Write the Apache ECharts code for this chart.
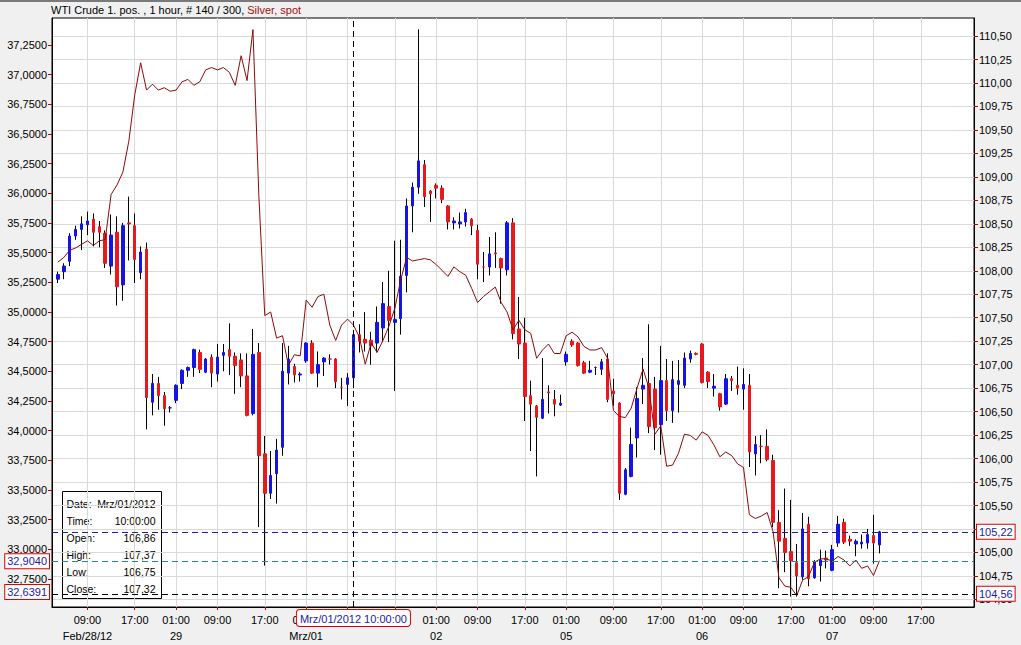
<!DOCTYPE html>
<html><head><meta charset="utf-8">
<script src="https://cdn.jsdelivr.net/npm/echarts@6/dist/echarts.min.js"></script>
<style>html,body{margin:0;padding:0;background:#f0f0f0;}#c{width:1021px;height:645px;}</style>
</head><body><div id="c"></div>
<script>
// ---------- data ----------
const dayLabels = ['Feb/28/12','29','Mrz/01','02','05','06','07','08'];
const dayHourLists = [
  [2,3,4,5,7,8,9,10,11,12,13,14,15,16,17,18,19,20,21,22],
  [0,1,2,3,4,5,7,8,9,10,11,12,13,14,15,16,17,18,19,20,21,22],
  [0,1,2,3,4,5,7,8,9,10,11,12,13,14,15,16,17,18,19,20,21,22],
  [0,1,2,3,4,5,7,8,9,10,11,12,13,14,15,16,17,18,19,20,21,22],
  [0,1,2,3,4,5,6,7,8,9,10,11,12,13,14,15,16,17,18,19,20,21,22],
  [0,1,2,3,4,5,7,8,9,10,11,12,13,14,15,16,17,18,19,20,21,22],
  [0,1,2,3,4,5,7,8,9,10,11,12,13,14,15,16,17,18,19,20,21,22],
  [0,1,2,3]
];
const labelHours = [1, 9, 17];
const labelDayCount = 7;
const hiddenTimeLabels = ['Mrz/01 09:00', 'Mrz/01 17:00']; // covered by the cursor date box
const firstBarName = 'Feb/28/12 03:00';
const crossBarName = 'Mrz/01 10:00';
const crossDate = 'Mrz/01/2012';
const crossTime = '10:00:00';

const wtiOpen = [107.91,107.99,108.10,108.37,108.44,108.49,108.55,108.47,108.40,108.05,
108.41,107.85,108.51,108.48,107.98,108.23,106.60,106.80,106.67,106.54,
106.62,106.80,106.94,106.97,107.13,106.92,107.08,106.90,107.10,107.16,
107.09,107.05,106.88,106.48,107.13,106.05,105.63,105.84,106.12,106.91,
106.98,106.89,107.04,107.23,106.91,107.03,107.06,107.06,106.76,106.79,
106.86,107.32,107.27,107.26,107.23,107.39,107.62,107.45,107.49,107.95,
108.69,108.89,109.13,108.85,108.91,108.88,108.69,108.51,108.50,108.52,
108.55,108.43,108.04,108.04,108.19,108.13,108.01,108.51,107.38,107.23,
106.67,106.56,106.43,106.71,106.63,106.57,107.03,107.25,107.23,107.02,
106.92,106.97,106.95,107.06,106.72,106.59,105.62,105.81,106.22,106.74,
106.80,106.74,106.36,106.83,106.51,106.79,106.78,107.06,107.12,107.22,
106.92,106.75,106.69,106.58,106.85,106.78,106.74,106.78,106.05,106.13,
106.13,105.98,105.32,105.15,105.01,104.89,104.74,105.30,104.73,104.86,
104.94,104.81,105.10,105.32,105.14,105.09,105.09,105.10,105.18,105.08];
const wtiClose = [107.96,108.05,108.37,108.44,108.50,108.53,108.41,108.41,108.08,108.38,
107.83,108.48,108.50,108.12,108.20,106.65,106.80,106.67,106.53,106.54,
106.78,106.94,106.97,107.16,106.95,107.06,106.91,107.08,107.13,107.09,
106.99,106.88,106.46,107.11,106.03,105.63,105.82,106.09,106.93,107.06,
106.89,106.90,107.23,106.91,107.00,107.07,107.06,106.82,106.76,106.86,
107.32,107.25,107.23,107.20,107.45,107.65,107.47,107.48,107.94,108.69,
108.89,109.17,108.79,108.82,108.88,108.76,108.52,108.53,108.52,108.62,
108.48,108.07,108.04,108.18,108.18,108.03,108.51,107.33,107.22,106.66,
106.58,106.44,106.63,106.70,106.58,106.59,107.11,107.21,106.99,106.91,
106.94,106.97,107.03,106.63,106.69,105.63,105.88,106.15,106.64,106.78,
106.34,106.33,106.83,106.51,106.84,106.83,107.07,107.12,107.11,106.81,
106.82,106.77,106.55,106.85,106.83,106.75,106.79,106.07,106.15,106.13,
105.99,105.32,105.12,105.00,104.91,104.75,105.25,104.72,104.90,104.92,
104.92,105.03,105.30,105.11,105.12,105.12,105.11,105.19,105.10,105.22];
const wtiLow = [107.87,107.91,108.05,108.33,108.22,108.38,108.26,108.25,108.03,107.96,
107.63,107.68,108.11,107.87,107.91,106.31,106.46,106.52,106.35,106.49,
106.59,106.74,106.87,106.87,106.91,106.91,106.76,106.82,106.93,106.89,
106.69,106.76,106.45,106.46,105.27,104.86,105.57,105.52,106.03,106.79,
106.81,106.82,107.02,106.90,106.76,106.88,107.00,106.75,106.63,106.56,
106.75,107.13,107.14,107.00,107.13,107.24,107.24,106.72,107.32,107.77,
108.41,108.82,108.68,108.52,108.77,108.72,108.44,108.44,108.45,108.47,
108.38,107.91,107.88,107.95,108.03,107.65,107.95,107.27,107.06,106.40,
106.08,105.81,106.42,106.48,106.45,106.56,106.99,107.19,106.98,106.90,
106.91,106.89,106.89,106.60,106.56,105.56,105.61,105.80,106.01,106.58,
106.27,106.09,106.04,106.40,106.38,106.49,106.75,107.02,107.10,106.80,
106.75,106.66,106.51,106.57,106.72,106.68,106.52,105.91,105.82,105.95,
105.97,105.27,104.62,104.79,104.53,104.53,104.71,104.64,104.72,104.69,
104.83,104.80,105.06,105.09,105.07,104.96,105.04,105.04,104.88,104.99];
const wtiHigh = [107.99,108.08,108.40,108.48,108.58,108.63,108.61,108.53,108.43,108.60,
108.58,108.51,108.79,108.61,108.26,108.30,106.90,106.87,106.71,106.56,
106.79,106.95,106.98,107.17,107.16,107.07,107.11,107.22,107.22,107.44,
107.13,107.12,107.12,107.38,107.23,106.24,106.08,106.21,107.23,107.20,
107.01,106.92,107.24,107.26,107.14,107.08,107.11,107.07,106.86,106.91,
107.37,107.43,107.56,107.35,107.62,107.88,108.00,108.32,108.33,108.77,
108.94,110.57,109.18,108.86,108.93,108.91,108.70,108.57,108.62,108.66,
108.56,108.49,108.20,108.36,108.41,108.14,108.53,108.56,107.72,107.50,
106.83,106.57,107.07,106.78,106.73,106.68,107.14,107.27,107.24,107.04,
107.04,106.98,107.06,107.12,106.85,106.60,105.90,106.33,106.76,107.07,
107.43,106.87,107.20,107.06,107.04,107.05,107.13,107.15,107.13,107.23,
106.93,106.90,106.70,106.90,106.88,106.98,106.96,106.90,106.24,106.25,
106.31,106.04,105.45,105.68,105.56,105.09,105.42,105.38,104.92,105.03,
105.02,105.08,105.39,105.36,105.18,105.14,105.19,105.25,105.40,105.23];
const silver = [35.42,35.46,35.52,35.54,35.57,35.60,35.56,35.60,35.61,35.99,
36.07,36.18,36.44,36.83,37.10,36.87,36.92,36.87,36.89,36.86,
36.87,36.94,36.96,36.91,36.94,37.04,37.06,37.04,37.06,37.02,
36.91,37.16,36.95,37.38,35.98,34.97,35.00,34.78,34.80,34.55,
34.64,34.63,35.10,35.04,35.13,35.15,34.89,34.76,34.89,34.94,
34.89,34.79,34.56,34.74,34.66,34.76,34.88,35.03,35.27,35.46,
35.43,35.44,35.45,35.44,35.40,35.35,35.30,35.38,35.34,35.31,
35.20,35.08,35.13,35.17,35.21,35.08,35.00,34.85,34.93,34.85,
34.82,34.61,34.68,34.73,34.65,34.65,34.80,34.83,34.79,34.71,
34.68,34.68,34.70,34.61,34.17,34.12,34.11,34.19,34.36,34.52,
34.36,33.97,34.04,33.70,33.71,33.81,33.97,33.96,33.92,33.99,
33.96,33.88,33.78,33.82,33.79,33.72,33.69,33.29,33.26,33.28,
33.31,33.15,32.76,32.69,32.68,32.61,32.74,32.77,32.89,32.92,
32.92,32.90,32.94,32.91,32.86,32.91,32.84,32.86,32.78,32.904];
const wtiCursor = 104.56;
const silverCursor = 32.6391;
const leftTicks = [32.75,33.00,33.25,33.50,33.75,34.00,34.25,34.50,34.75,35.00,35.25,35.50,35.75,36.00,36.25,36.50,36.75,37.00,37.25];
const rightTicks = [104.50,104.75,105.00,105.25,105.50,105.75,106.00,106.25,106.50,106.75,107.00,107.25,107.50,107.75,108.00,108.25,108.50,108.75,109.00,109.25,109.50,109.75,110.00,110.25,110.50];
const rightLabelsHidden = [105.25]; // covered by the last-price box
const leftRange = [32.514, 37.4775];
const rightRange = [104.419, 110.692];

// ---------- build ----------
const cats = [], catHour = [], catDay = [];
dayHourLists.forEach((hs, d) => hs.forEach(h => {
  cats.push(dayLabels[d] + ' ' + String(h).padStart(2, '0') + ':00');
  catHour.push(h); catDay.push(d);
}));
const firstBar = cats.indexOf(firstBarName);
const crossBar = cats.indexOf(crossBarName);
const ci = crossBar - firstBar;
const labeled = new Set();
cats.forEach((c, k) => { if (labelHours.includes(catHour[k]) && catDay[k] < labelDayCount) labeled.add(k); });
const firstLabel = Math.min(...labeled);
const hiddenIdx = new Set(hiddenTimeLabels.map(n => cats.indexOf(n)));
const fmt = (v, n) => Number(v).toFixed(n).replace('.', ',');
const FONT = 'Liberation Sans, Arial, sans-serif';
const isLab = (i) => labeled.has(i);
const isShownLab = (i) => labeled.has(i) && !hiddenIdx.has(i);
const rightLabelValues = rightTicks.filter(v => !rightLabelsHidden.includes(v));

const blue = '#1414e6', red = '#e8191c';
const wickData = wtiOpen.map((o, i) => [firstBar + i, o, wtiClose[i], wtiLow[i], wtiHigh[i]]);
const bodyData = wtiOpen.map((o, i) => [firstBar + i, o, wtiClose[i], Math.min(o, wtiClose[i]), Math.max(o, wtiClose[i])]);
const silverData = silver.map((v, i) => [firstBar + i, v]);

const boxLabel = (pos, text) => ({
  show: true, position: pos, distance: 3, formatter: text,
  backgroundColor: '#fff', borderColor: '#e00000', borderWidth: 1, opacity: 1,
  color: '#1a1aa8', padding: [2, 2, 1, 2], fontSize: 11, fontFamily: FONT
});

const chart = echarts.init(document.getElementById('c'), null, {renderer: 'svg', width: 1021, height: 645});
const rowsL = ['Date:', 'Time:', 'Open:', 'High:', 'Low:', 'Close:'];
const rowsR = [crossDate, crossTime, fmt(wtiOpen[ci], 2), fmt(wtiHigh[ci], 2), fmt(wtiLow[ci], 2), fmt(wtiClose[ci], 2)];
const boxFont = '10.5px ' + FONT;
const boxChildren = [{type: 'rect', shape: {x: 0, y: 0, width: 99, height: 107},
  style: {fill: 'rgba(255,255,255,0.72)', stroke: '#000', lineWidth: 1}}];
rowsL.forEach((t, r) => {
  boxChildren.push({type: 'text', style: {text: t, x: 4, y: 12 + r * 17, fill: '#000', font: boxFont, textAlign: 'left', textVerticalAlign: 'middle'}});
  boxChildren.push({type: 'text', style: {text: rowsR[r], x: 93, y: 12 + r * 17, fill: '#000', font: boxFont, textAlign: 'right', textVerticalAlign: 'middle'}});
});

chart.setOption({
  animation: false,
  backgroundColor: '#f0f0f0',
  textStyle: {fontFamily: FONT, fontSize: 11, color: '#000'},
  title: {
    left: 51, top: 4, padding: 0,
    text: '{a|WTI Crude 1. pos. , 1 hour, # 140 / 300, }{b|Silver, spot}',
    textStyle: {fontWeight: 'normal', fontSize: 11,
      rich: {a: {color: '#000', fontSize: 11, fontWeight: 'normal', fontFamily: FONT},
             b: {color: '#a01010', fontSize: 11, fontWeight: 'normal', fontFamily: FONT}}}
  },
  grid: {left: 52, right: 47, top: 18, bottom: 38, show: true, backgroundColor: '#fff', borderColor: '#000', borderWidth: 1},
  xAxis: {
    type: 'category', data: cats, boundaryGap: false,
    axisLine: {lineStyle: {color: '#000'}},
    axisTick: {interval: isLab, length: 3, lineStyle: {color: '#c00000'}},
    axisLabel: {interval: isShownLab, margin: 5, lineHeight: 16, color: '#000', fontSize: 11, fontFamily: FONT,
      formatter: (v, k) => {
        const hh = String(catHour[k]).padStart(2, '0') + ':00';
        return (catHour[k] === 1 || k === firstLabel) ? hh + '\n' + dayLabels[catDay[k]] : hh;
      }},
    splitLine: {show: true, interval: isLab, lineStyle: {color: '#d9d9d9', width: 1}},
    axisPointer: {
      show: true, type: 'line', value: crossBar, status: 'show', snap: false, triggerTooltip: false,
      lineStyle: {color: '#000', type: [6, 4], width: 1},
      label: {show: true, formatter: () => crossDate + ' ' + crossTime, backgroundColor: '#fff',
        borderColor: '#e00000', borderWidth: 1, color: '#1a1aa8', padding: [3, 3, 2, 3],
        fontSize: 11, fontFamily: FONT, margin: 3}
    }
  },
  yAxis: [
    {type: 'value', position: 'left', min: leftRange[0], max: leftRange[1],
      axisLine: {show: true, lineStyle: {color: '#000'}},
      axisTick: {show: true, length: 4, customValues: leftTicks, lineStyle: {color: '#c00000'}},
      axisLabel: {customValues: leftTicks, margin: 5, color: '#000', fontSize: 11, fontFamily: FONT, formatter: v => fmt(v, 4)},
      splitLine: {show: false}},
    {type: 'value', position: 'right', min: rightRange[0], max: rightRange[1],
      axisLine: {show: true, lineStyle: {color: '#000'}},
      axisTick: {show: true, length: 4, customValues: rightTicks, lineStyle: {color: '#c00000'}},
      axisLabel: {customValues: rightLabelValues, margin: 5, color: '#000', fontSize: 11, fontFamily: FONT, formatter: v => fmt(v, 2)},
      splitLine: {show: true, lineStyle: {color: '#d9d9d9', width: 1}}}
  ],
  series: [
    {type: 'candlestick', name: 'WTI wick', yAxisIndex: 1, barWidth: 0.01, data: wickData,
      encode: {x: 0, y: [1, 2, 3, 4]}, silent: true, z: 2,
      itemStyle: {color: '#000', color0: '#000', borderColor: '#000', borderColor0: '#000', borderWidth: 1}},
    {type: 'candlestick', name: 'WTI Crude', yAxisIndex: 1, barWidth: 3, data: bodyData,
      encode: {x: 0, y: [1, 2, 3, 4]}, silent: true, z: 3,
      itemStyle: {color: blue, color0: red, borderColor: blue, borderColor0: red, borderWidth: 1},
      markLine: {symbol: ['none', 'none'], silent: true, animation: false,
        data: [
          {yAxis: wtiClose[wtiClose.length - 1], lineStyle: {color: '#1f1fa0', type: [6, 4], width: 1},
            label: boxLabel('end', fmt(wtiClose[wtiClose.length - 1], 2))},
          {yAxis: wtiCursor, lineStyle: {color: '#000', type: [6, 4], width: 1}, label: boxLabel('end', fmt(wtiCursor, 2))}
        ]}},
    {type: 'line', name: 'Silver, spot', yAxisIndex: 0, data: silverData, showSymbol: false, z: 4,
      lineStyle: {color: '#8b0a0a', width: 1}, silent: true,
      markLine: {symbol: ['none', 'none'], silent: true, animation: false,
        data: [
          {yAxis: silver[silver.length - 1], lineStyle: {color: '#2a8a8a', type: [6, 4], width: 1},
            label: boxLabel('start', fmt(silver[silver.length - 1], 4))},
          {yAxis: silverCursor, lineStyle: {color: 'rgba(0,0,0,0)', type: [6, 4], width: 1},
            label: boxLabel('start', fmt(silverCursor, 4))}
        ]}}
  ],
  graphic: [
    {type: 'rect', left: 0, top: 0, z: 100, shape: {width: 1021, height: 2}, style: {fill: '#7a7a7a'}},
    {type: 'group', left: 62, top: 491, z: 100, children: boxChildren}
  ]
});
</script></body></html>
